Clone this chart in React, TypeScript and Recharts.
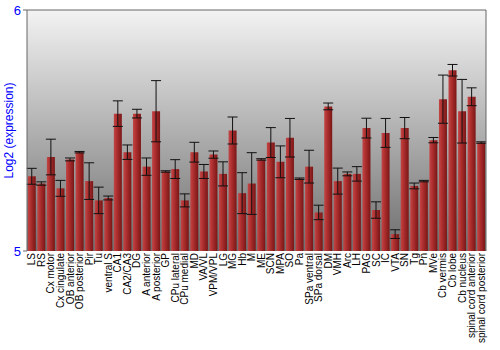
import {
  BarChart,
  Bar,
  XAxis,
  YAxis,
  CartesianGrid,
  ErrorBar,
  ReferenceLine,
} from "recharts";

const regions = [
  "LS", "RS", "Cx motor", "Cx cingulate", "OB anterior", "OB posterior",
  "Pir", "Tu", "ventral S", "CA1", "CA2/CA3", "DG", "A anterior",
  "A posterior", "GP", "CPu lateral", "CPu medial", "MD", "VA/VL",
  "VPM/VPL", "LG", "MG", "Hb", "M", "ME", "SCN", "MPA", "SO", "Pa",
  "SPa ventral", "SPa dorsal", "DM", "VMH", "Arc", "LH", "PAG", "SC", "IC",
  "VTA", "SN", "Tg", "Pn", "MVe", "Cb vermis", "Cb lobe", "Cb nucleus",
  "spinal cord anterior", "spinal cord posterior",
];

const expression = [
  5.31, 5.28, 5.39, 5.26, 5.38, 5.41,
  5.29, 5.21, 5.22, 5.57, 5.41, 5.57, 5.35,
  5.58, 5.33, 5.34, 5.21, 5.41, 5.33,
  5.4, 5.32, 5.5, 5.24, 5.28, 5.38, 5.45, 5.37, 5.47, 5.3,
  5.35, 5.16, 5.6, 5.29, 5.32, 5.32, 5.51, 5.17, 5.49,
  5.07, 5.51, 5.27, 5.29, 5.46, 5.63, 5.75, 5.58,
  5.64, 5.45,
];

const stdErr = [
  0.033, 0.007, 0.074, 0.033, 0.006, 0.003,
  0.076, 0.055, 0.008, 0.053, 0.03, 0.018, 0.036,
  0.127, 0.003, 0.039, 0.027, 0.041, 0.029,
  0.015, 0.05, 0.056, 0.085, 0.128, 0.003, 0.062, 0.066, 0.08, 0.003,
  0.068, 0.03, 0.014, 0.054, 0.008, 0.03, 0.041, 0.034, 0.06,
  0.018, 0.044, 0.012, 0.003, 0.011, 0.1, 0.024, 0.132,
  0.037, 0.003,
];

const yTicks = [5, 6];

const data = regions.map((name, i) => ({
  name,
  value: expression[i],
  err: stdErr[i],
}));

const FONT = "'Liberation Sans', Arial, sans-serif";

function RegionTick({ x, y, payload }: any) {
  return (
    <text
      x={x}
      y={y}
      transform={`rotate(-90, ${x}, ${y})`}
      textAnchor="end"
      dominantBaseline="central"
      fontSize={10}
      fontFamily={FONT}
      fill="#000"
    >
      {payload.value}
    </text>
  );
}

function YLabel({ viewBox }: any) {
  const cx = 9;
  const cy = viewBox.y + viewBox.height / 2;
  return (
    <text
      x={cx}
      y={cy}
      transform={`rotate(-90, ${cx}, ${cy})`}
      textAnchor="middle"
      dominantBaseline="central"
      fontSize={12}
      fontFamily={FONT}
      fill="#0000ff"
    >
      Log2 (expression)
    </text>
  );
}

export default function App() {
  return (
    <div
      style={{
        position: "absolute",
        left: 0,
        top: 0,
        width: 500,
        height: 350,
        background: "#fff",
      }}
    >
      <BarChart
        width={500}
        height={350}
        data={data}
        margin={{ top: 10, right: 0, left: 0, bottom: 0 }}
        barCategoryGap="8%"
      >
        <defs>
          <linearGradient id="plotBg" x1="0" y1="0" x2="0" y2="1">
            <stop offset="0%" stopColor="#f3f3f3" />
            <stop offset="100%" stopColor="#6e6e6e" />
          </linearGradient>
          <linearGradient id="barFill" x1="0" y1="0" x2="1" y2="0">
            <stop offset="0%" stopColor="#c24646" />
            <stop offset="35%" stopColor="#b03030" />
            <stop offset="100%" stopColor="#7a1616" />
          </linearGradient>
        </defs>
        <CartesianGrid
          yAxisId="left"
          horizontal={false}
          vertical={false}
          fill="url(#plotBg)"
          stroke="none"
        />
        <XAxis
          dataKey="name"
          interval={0}
          height={99}
          axisLine={false}
          tickLine={false}
          tickSize={0}
          tickMargin={2}
          tick={<RegionTick />}
        />
        <YAxis
          yAxisId="left"
          domain={[5, 6]}
          ticks={yTicks}
          width={27}
          stroke="#666"
          tickSize={4}
          tickMargin={2}
          tick={{ fill: "#0000ff", fontSize: 13, fontFamily: FONT }}
          label={<YLabel />}
        />
        <YAxis
          yAxisId="right"
          orientation="right"
          domain={[5, 6]}
          ticks={yTicks}
          width={14}
          stroke="#666"
          tickSize={4}
          tickMargin={1}
          tick={{ fill: "#0000ff", fontSize: 13, fontFamily: FONT, textAnchor: "start" }}
        />
        <ReferenceLine yAxisId="left" y={6} stroke="#666" />
        <Bar
          yAxisId="left"
          dataKey="value"
          fill="url(#barFill)"
          isAnimationActive={false}
        >
          <ErrorBar dataKey="err" width={5} stroke="#111" strokeWidth={1} />
        </Bar>
      </BarChart>
    </div>
  );
}
